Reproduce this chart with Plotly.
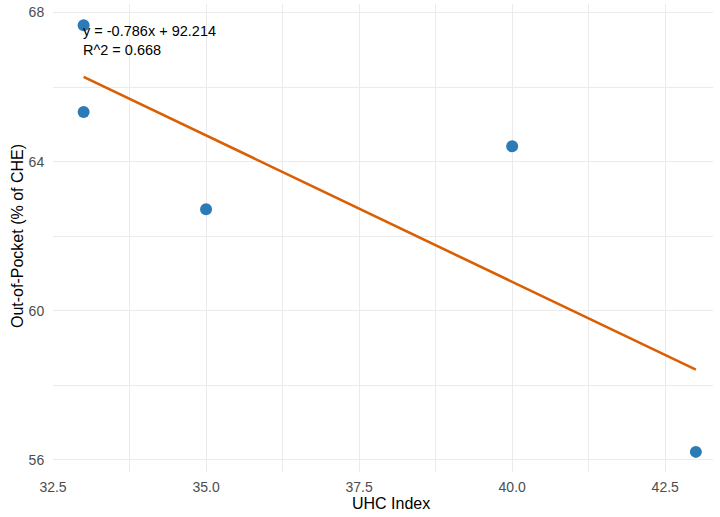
import plotly.graph_objects as go

uhc_index = [33, 33, 35, 40, 43]
out_of_pocket = [67.66, 65.33, 62.72, 64.41, 56.21]
slope = -0.786
intercept = 92.214
r_squared = 0.668
x_ticks = [32.5, 35.0, 37.5, 40.0, 42.5]
x_tick_labels = ["32.5", "35.0", "37.5", "40.0", "42.5"]
y_ticks = [56, 60, 64, 68]
y_tick_labels = ["56", "60", "64", "68"]

x_line = [min(uhc_index), max(uhc_index)]
y_line = [slope * v + intercept for v in x_line]

fig = go.Figure()
fig.add_trace(go.Scatter(
    x=x_line, y=y_line, mode="lines",
    line=dict(color="#D95F02", width=2.6), hoverinfo="skip", showlegend=False))
fig.add_trace(go.Scatter(
    x=uhc_index, y=out_of_pocket, mode="markers",
    marker=dict(color="#2C7BB6", size=12, line=dict(width=0)), showlegend=False))

fig.add_annotation(
    x=min(uhc_index), y=max(out_of_pocket), xref="x", yref="y",
    xanchor="left", yanchor="top", align="left", showarrow=False,
    text=f"y = {slope}x + {intercept}<br>R^2 = {r_squared}",
    font=dict(family="Liberation Sans, Arial, sans-serif", size=14.5, color="#000000"),
    xshift=-3, yshift=4)

# axis titles
fig.add_annotation(
    x=0.5, y=0, xref="paper", yref="paper", xanchor="center", yanchor="middle",
    xshift=8, yshift=-31, showarrow=False, text="UHC Index",
    font=dict(family="Liberation Sans, Arial, sans-serif", size=16, color="#000000"))
fig.add_annotation(
    x=0, y=0.5, xref="paper", yref="paper", xanchor="center", yanchor="middle",
    xshift=-36, yshift=2, showarrow=False, textangle=-90, text="Out-of-Pocket (% of CHE)",
    font=dict(family="Liberation Sans, Arial, sans-serif", size=16, color="#000000"))

grid = "#EBEBEB"
fig.update_layout(
    width=720, height=517,
    margin=dict(l=53, r=7, t=4, b=45),
    paper_bgcolor="white", plot_bgcolor="white",
    font=dict(family="Liberation Sans, Arial, sans-serif"),
    xaxis=dict(
        range=[32.5, 43.28], tickvals=x_ticks, ticktext=x_tick_labels,
        showgrid=True, gridcolor=grid, gridwidth=1.4, zeroline=False, showline=False,
        ticks="outside", ticklen=2, tickcolor="rgba(0,0,0,0)",
        tickfont=dict(size=14, color="#4D4D4D"),
        minor=dict(showgrid=True, gridcolor=grid, gridwidth=0.8, tick0=33.75, dtick=2.5),
        automargin=False),
    yaxis=dict(
        range=[55.67, 68.23], tickvals=y_ticks, ticktext=y_tick_labels,
        showgrid=True, gridcolor=grid, gridwidth=1.4, zeroline=False, showline=False,
        ticks="outside", ticklen=5, tickcolor="rgba(0,0,0,0)",
        tickfont=dict(size=14, color="#4D4D4D"),
        minor=dict(showgrid=True, gridcolor=grid, gridwidth=0.8, tick0=58, dtick=4),
        automargin=False),
)

fig.write_html("out.html", config={"displayModeBar": False},
               post_script="document.body.style.margin='0';")
